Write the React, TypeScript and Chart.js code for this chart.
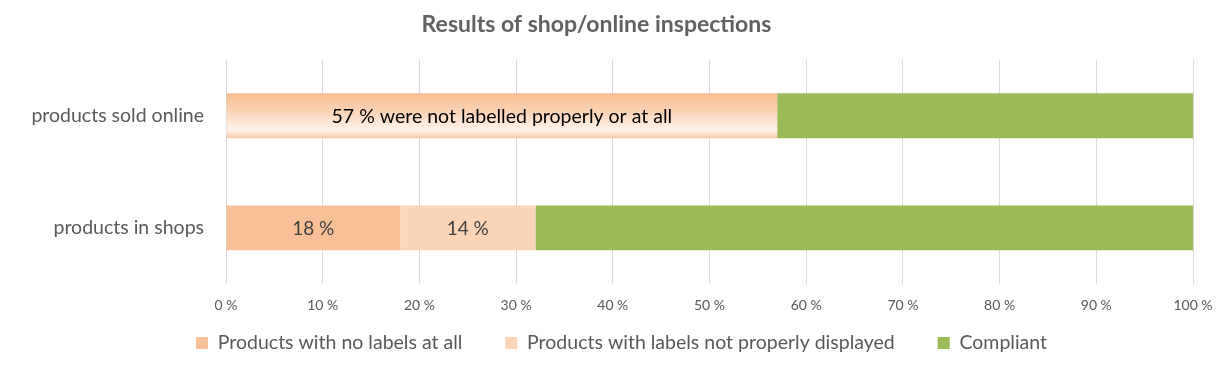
import React, { useEffect, useRef } from "react";
import { Chart, registerables } from "chart.js";

Chart.register(...registerables);

const categories = ["products sold online", "products in shops"];
const onlineCombined = [57, 0];
const noLabels = [0, 18];
const notProper = [0, 14];
const compliant = [43, 68];
const barLabels = [
  { dataset: 0, index: 0, text: "57 % were not labelled properly or at all", color: "#000000" },
  { dataset: 1, index: 1, text: "18 %", color: "#404040" },
  { dataset: 2, index: 1, text: "14 %", color: "#404040" },
];
const titleText = "Results of shop/online inspections";
const FONT = "Lato, 'Open Sans', sans-serif";
const LEGEND_FONT = 19.5;
const LEGEND_PAD = 43;
const LEGEND_CENTER_Y = 343;
const LEGEND_FIRST_X = 196;

const labelPlugin = {
  id: "barLabels",
  afterDatasetsDraw(chart: any) {
    const ctx = chart.ctx;
    ctx.save();
    ctx.textAlign = "center";
    ctx.textBaseline = "middle";
    for (const l of barLabels) {
      const el = chart.getDatasetMeta(l.dataset).data[l.index];
      if (!el) continue;
      const cx = (el.x + el.base) / 2;
      ctx.font = `${l.dataset === 0 ? 19.5 : 19}px ${FONT}`;
      ctx.fillStyle = l.color;
      ctx.fillText(l.text, cx, el.y + 1);
    }
    ctx.restore();
  },
};

const legendShift = {
  id: "legendShift",
  afterLayout(chart: any) {
    const L = chart.legend;
    if (!L) return;
    L.top = LEGEND_CENTER_Y - LEGEND_PAD - LEGEND_FONT / 2;
    L.bottom = chart.height;
    L.height = L.bottom - L.top;
    const lw = (L.lineWidths && L.lineWidths[0]) || 0;
    L.left = 0;
    L.right = 2 * LEGEND_FIRST_X - LEGEND_PAD + lw;
    L.width = L.right - L.left;
  },
};

export default function App() {
  const ref = useRef<HTMLCanvasElement>(null);
  useEffect(() => {
    document.body.style.margin = "0";
    const canvas = ref.current!;
    const gradientFill = (c: any) => {
      const chart = c.chart;
      const y = chart.scales.y;
      if (!y || !chart.chartArea) return "#f8c096";
      const band = Math.abs(y.getPixelForValue(1) - y.getPixelForValue(0));
      const th = band * 0.4;
      const cy = y.getPixelForValue(c.dataIndex);
      const g = chart.ctx.createLinearGradient(0, cy - th / 2, 0, cy + th / 2);
      g.addColorStop(0, "#f7bd92");
      g.addColorStop(0.45, "#fbd6bb");
      g.addColorStop(0.82, "#fff3ea");
      g.addColorStop(1, "#f9c9a5");
      return g;
    };
    const chart = new Chart(canvas, {
      type: "bar",
      data: {
        labels: categories,
        datasets: [
          { label: "not labelled (online)", data: onlineCombined, backgroundColor: gradientFill, borderWidth: 0 },
          { label: "Products with no labels at all", data: noLabels, backgroundColor: "#f8c096", borderWidth: 0 },
          { label: "Products with labels not properly displayed", data: notProper, backgroundColor: "#fbd5b6", borderWidth: 0 },
          { label: "Compliant", data: compliant, backgroundColor: "#9bbb59", borderWidth: 0 },
        ],
      },
      options: {
        indexAxis: "y",
        animation: false,
        responsive: false,
        maintainAspectRatio: false,
        categoryPercentage: 1,
        barPercentage: 0.4,
        layout: { padding: { left: 0, right: 34, top: 0, bottom: 0 } },
        scales: {
          x: {
            stacked: true,
            min: 0,
            max: 100,
            border: { display: false },
            grid: { color: "#d9d9d9", drawTicks: false },
            ticks: {
              stepSize: 10,
              padding: 13,
              color: "#595959",
              maxRotation: 0,
              font: { family: FONT, size: 14 },
              callback: (v: any) => `${v} %`,
            },
            afterFit: (s: any) => {
              s.height = 40;
            },
          },
          y: {
            stacked: true,
            border: { display: false },
            grid: { display: false, drawTicks: false },
            ticks: { padding: 22, color: "#595959", font: { family: FONT, size: 19.5 } },
            afterFit: (s: any) => {
              s.width = 226;
            },
          },
        },
        plugins: {
          title: {
            display: true,
            text: titleText,
            color: "#616161",
            font: { family: FONT, size: 23, weight: "bold" },
            padding: { top: 11, bottom: 21 },
          },
          legend: {
            position: "bottom",
            maxHeight: 46,
            labels: {
              filter: (item: any) => item.datasetIndex !== 0,
              boxWidth: 12,
              boxHeight: 12,
              padding: LEGEND_PAD,
              color: "#595959",
              font: { family: FONT, size: LEGEND_FONT },
            },
          },
          tooltip: { enabled: false },
        },
      },
      plugins: [labelPlugin, legendShift],
    });
    return () => chart.destroy();
  }, []);
  return (
    <div style={{ width: 1227, height: 370 }}>
      <canvas ref={ref} width={1227} height={370} style={{ display: "block" }} />
    </div>
  );
}
